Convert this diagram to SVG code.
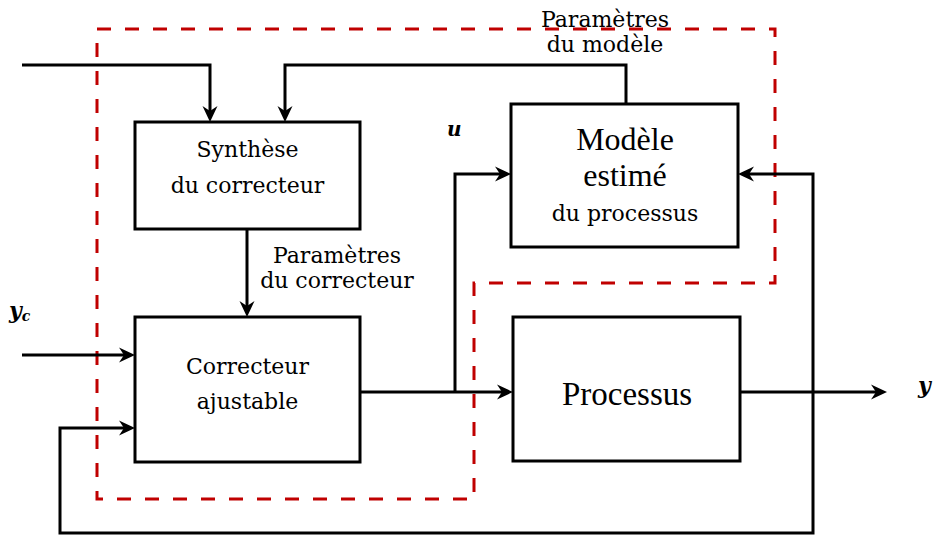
<svg xmlns="http://www.w3.org/2000/svg" width="933" height="535" viewBox="0 0 933 535">
<style>
.box{fill:#fff;stroke:#000;stroke-width:3}
.wire{fill:none;stroke:#000;stroke-width:3}
.dash{fill:none;stroke:#c00000;stroke-width:3;stroke-dasharray:14 14}
.t{font-family:"DejaVu Serif","Liberation Serif",serif;font-size:22px;fill:#000;text-anchor:middle}
.big{font-family:"Liberation Serif","DejaVu Serif",serif;font-size:32px;fill:#000;text-anchor:middle}
.m{font-family:"DejaVu Serif","Liberation Serif",serif;font-style:italic;font-weight:bold;fill:#000}
</style>
<defs>
<marker id="arr" viewBox="-17 -9 18 18" refX="-5" refY="0" markerWidth="18" markerHeight="18" markerUnits="userSpaceOnUse" orient="auto">
<path d="M0,0 L-16,-7.5 L-11,0 L-16,7.5 Z" fill="#000"/>
</marker>
</defs>
<rect width="933" height="535" fill="#fff"/>
<path class="dash" d="M97,29 H775 V283 H474 V499 H97 Z"/>
<g id="connectors">
<path class="wire" d="M22,65 H210 V117" marker-end="url(#arr)"/>
<path class="wire" d="M626,104 V65 H285 V117" marker-end="url(#arr)"/>
<path class="wire" d="M247,229 V312" marker-end="url(#arr)"/>
<path class="wire" d="M22,355 H130" marker-end="url(#arr)"/>
<path class="wire" d="M813,392 V533 H60 V428 H130" marker-end="url(#arr)"/>
<path class="wire" d="M813,392 V174 H743" marker-end="url(#arr)"/>
<path class="wire" d="M360,392 H508" marker-end="url(#arr)"/>
<path class="wire" d="M455,392 V174 H506" marker-end="url(#arr)"/>
<path class="wire" d="M740,392 H882" marker-end="url(#arr)"/>
</g>
<g id="synthese">
<rect class="box" x="135" y="122" width="225" height="107"/>
<text class="t" x="247.5" y="157">Synthèse</text>
<text class="t" x="247.5" y="193">du correcteur</text>
</g>
<g id="correcteur">
<rect class="box" x="135" y="317" width="225" height="145"/>
<text class="t" x="247.5" y="374">Correcteur</text>
<text class="t" x="247.5" y="409">ajustable</text>
</g>
<g id="modele">
<rect class="box" x="511" y="104" width="227" height="143"/>
<text class="big" x="625" y="150">Modèle</text>
<text class="big" x="625" y="186">estimé</text>
<text class="t" x="625" y="221">du processus</text>
</g>
<g id="processus">
<rect class="box" x="513" y="317" width="227" height="144"/>
<text class="big" x="627" y="405" style="font-size:33px">Processus</text>
</g>
<g id="labels">
<text class="t" x="337" y="263">Paramètres</text>
<text class="t" x="337" y="288">du correcteur</text>
<text class="t" x="605" y="27">Paramètres</text>
<text class="t" x="605" y="52">du modèle</text>
<text class="m" x="447" y="136" font-size="20">u</text>
<text class="m" x="9" y="318" font-size="22">y<tspan font-size="14" dy="3">c</tspan></text>
<text class="m" x="918" y="393" font-size="22">y</text>
</g>
</svg>
